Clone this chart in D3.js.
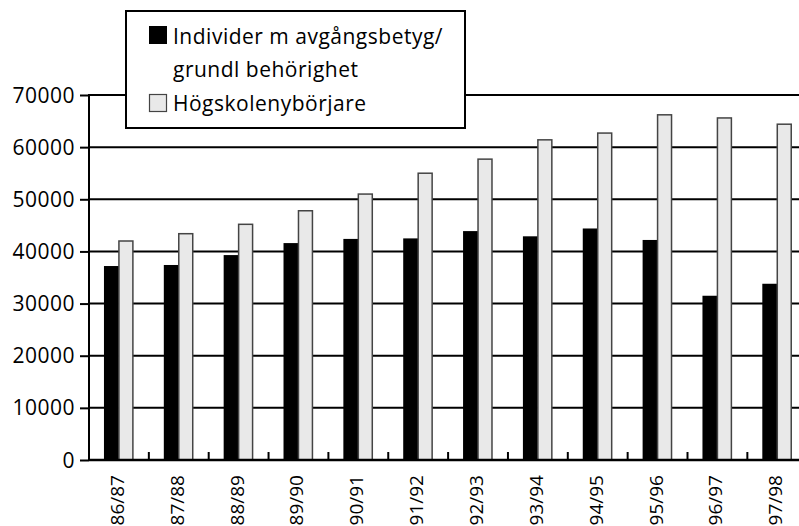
<!DOCTYPE html>
<html><head><meta charset="utf-8">
<script src="https://cdn.jsdelivr.net/npm/d3@7"></script>
<style>
html,body{margin:0;padding:0;background:#fff;}
svg{display:block;}
text{font-family:"Open Sans","DejaVu Sans",sans-serif;fill:#000;}
</style></head>
<body>
<svg id="c" width="799" height="526"></svg>
<script>
const categories = ["86/87","87/88","88/89","89/90","90/91","91/92","92/93","93/94","94/95","95/96","96/97","97/98"];
const individer = [37200,37400,39300,41600,42400,42500,43900,42900,44400,42200,31500,33800];
const hogskole = [42000,43400,45200,47800,51000,55000,57700,61400,62700,66200,65600,64400];
const yTicks = [0,10000,20000,30000,40000,50000,60000,70000];
const seriesNames = ["Individer m avgångsbetyg/ grundl behörighet","Högskolenybörjare"];

(function(){
const svg = d3.select("#c");
const W = 799;
const FONT = "'Open Sans', 'DejaVu Sans', sans-serif";
const mLeft = 89, mBottom = 460, mTop = 95;
const x = d3.scaleBand().domain(categories).range([mLeft, mLeft + 12*59.85]).padding(0);
const x1 = d3.scaleBand().domain([0,1]).range([0, x.bandwidth()]).paddingInner(0).paddingOuter(1);
const y = d3.scaleLinear().domain([0,70000]).range([mBottom, mTop]);

// gridlines
svg.append("g").selectAll("line").data(yTicks).join("line")
  .attr("x1", mLeft).attr("x2", W)
  .attr("y1", d=>y(d)).attr("y2", d=>y(d))
  .attr("stroke","#000").attr("stroke-width",2);

// y axis
const yAxis = d3.axisLeft(y).tickValues(yTicks).tickSize(9).tickPadding(5).tickFormat(d=>String(d));
const gy = svg.append("g").attr("transform",`translate(${mLeft},0)`).call(yAxis);
gy.select(".domain").remove();
gy.selectAll(".tick line").attr("stroke","#000").attr("stroke-width",2);
gy.selectAll(".tick text").attr("font-size",21).attr("font-family",FONT).attr("fill","#000")
  .attr("dy","0.34em").attr("letter-spacing","0.5px");
svg.append("line").attr("x1",mLeft).attr("x2",mLeft).attr("y1",y(70000)-1).attr("y2",mBottom+1)
  .attr("stroke","#000").attr("stroke-width",2);

// bars
const groups = svg.append("g").selectAll("g").data(categories).join("g")
  .attr("transform", d=>`translate(${x(d)},0)`);
groups.append("rect")
  .attr("x", x1(0)).attr("width", x1.bandwidth())
  .attr("y", (d,i)=>y(individer[i])).attr("height",(d,i)=>mBottom - y(individer[i]))
  .attr("fill","#000");
groups.append("rect")
  .attr("x", x1(1)).attr("width", x1.bandwidth()-1)
  .attr("y", (d,i)=>y(hogskole[i])).attr("height",(d,i)=>mBottom - y(hogskole[i]))
  .attr("fill","#e9e9e9").attr("stroke","#444").attr("stroke-width",1.5);

// x axis
svg.append("line").attr("x1",mLeft).attr("x2",W).attr("y1",mBottom).attr("y2",mBottom)
  .attr("stroke","#000").attr("stroke-width",2.5);
svg.append("g").selectAll("line").data(categories).join("line")
  .attr("x1", d=>x(d)+x.bandwidth()).attr("x2", d=>x(d)+x.bandwidth())
  .attr("y1", mBottom).attr("y2", mBottom-8)
  .attr("stroke","#000").attr("stroke-width",2);
svg.append("g").selectAll("text").data(categories).join("text")
  .attr("transform", d=>`translate(${x(d)+x.bandwidth()/2+5},${mBottom+15}) rotate(-90)`)
  .attr("text-anchor","end").attr("font-size",19)
  .text(d=>d);

// legend
const lg = svg.append("g");
lg.append("rect").attr("x",126).attr("y",11).attr("width",339).attr("height",117)
  .attr("fill","#fff").attr("stroke","#000").attr("stroke-width",2);
lg.append("rect").attr("x",149).attr("y",26).attr("width",18).attr("height",18).attr("fill","#000");
lg.append("rect").attr("x",149.5).attr("y",94.5).attr("width",17).attr("height",17)
  .attr("fill","#e9e9e9").attr("stroke","#444").attr("stroke-width",1.2);
const parts = seriesNames[0].split(" grundl");
lg.append("text").attr("x",173).attr("y",44).attr("font-size",21).attr("letter-spacing","0.5px").text(parts[0]);
lg.append("text").attr("x",173).attr("y",77).attr("font-size",21).attr("letter-spacing","0.5px").text("grundl" + parts[1]);
lg.append("text").attr("x",173).attr("y",111).attr("font-size",21).attr("letter-spacing","0.5px").text(seriesNames[1]);
})();
</script>
</body></html>
